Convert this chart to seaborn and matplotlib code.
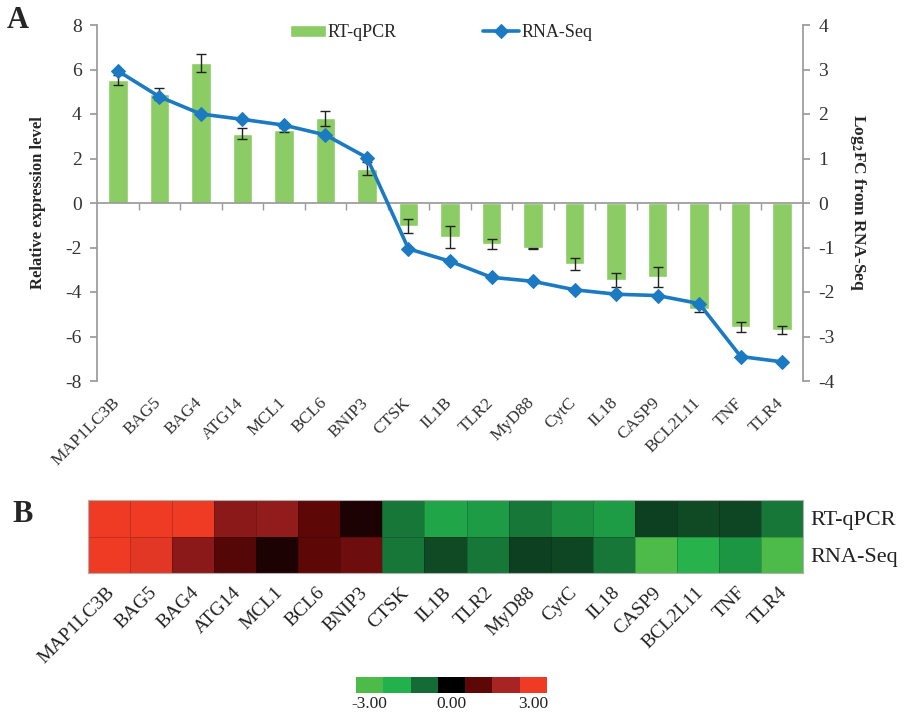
import numpy as np
import pandas as pd
import matplotlib
matplotlib.use("Agg")
import matplotlib.pyplot as plt
import matplotlib.transforms as mtransforms
from matplotlib.colors import LinearSegmentedColormap, ListedColormap, BoundaryNorm
from matplotlib.cm import ScalarMappable
import seaborn as sns

# data
genes = ['MAP1LC3B', 'BAG5', 'BAG4', 'ATG14', 'MCL1', 'BCL6', 'BNIP3', 'CTSK', 'IL1B',
         'TLR2', 'MyD88', 'CytC', 'IL18', 'CASP9', 'BCL2L11', 'TNF', 'TLR4']
qpcr = [5.53, 4.9, 6.28, 3.12, 3.27, 3.8, 1.55, -1.02, -1.53,
        -1.83, -2.03, -2.74, -3.46, -3.34, -4.77, -5.56, -5.71]
qpcr_err = [0.22, 0.25, 0.4, 0.25, 0.1, 0.34, 0.28, 0.32, 0.5,
            0.22, 0.02, 0.25, 0.32, 0.45, 0.15, 0.22, 0.19]
rnaseq = [2.97, 2.39, 2.0, 1.88, 1.75, 1.53, 1.02, -1.03, -1.31,
          -1.67, -1.76, -1.95, -2.05, -2.08, -2.26, -3.45, -3.57]

# heatmap values (panel B)
heat_qpcr = [3.0, 3.0, 3.0, 1.6, 1.7, 1.0, 0.3, -1.15, -1.85,
             -1.7, -1.15, -1.5, -1.7, -0.6, -0.7, -0.65, -1.15]
heat_rnaseq = [3.0, 2.8, 1.6, 0.9, 0.3, 1.0, 1.2, -1.15, -0.7,
               -1.15, -0.6, -0.65, -1.15, -3.0, -2.1, -1.6, -3.0]
heat_rows = ['RT-qPCR', 'RNA-Seq']

scale_colors = ['#4dbb4a', '#22b14c', '#156b35', '#000000', '#5e0707', '#a82424', '#ef3b24']
scale_ticks = [-3, 0, 3]

sns.set_theme(style='white')
plt.rcParams['font.family'] = ['Liberation Serif', 'DejaVu Serif']
plt.rcParams['mathtext.fontset'] = 'stix'
plt.rcParams['axes.unicode_minus'] = False

bar_color = '#8ccc64'
line_color = '#1c7ac2'
axis_gray = '#9a9a9a'

fig = plt.figure(figsize=(9.1, 7.15), dpi=100)

# ---- panel A ----
ax = fig.add_axes([97 / 910, 1 - 381 / 715, 706 / 910, 356 / 715])
n = len(genes)
sns.barplot(x=genes, y=qpcr, color=bar_color, saturation=1, width=0.47,
            errorbar=None, ax=ax, label='RT-qPCR')
ax.errorbar(np.arange(n), qpcr, yerr=qpcr_err, fmt='none', ecolor='#222222',
            elinewidth=1, capsize=3.5, capthick=1)
ax.set_ylim(-8, 8)
ax.set_yticks(np.arange(-8, 9, 2))
ax.set_xlim(-0.5, n - 0.5)
if ax.get_legend() is not None:
    ax.get_legend().remove()

# zero line with ticks between categories
ax.spines['bottom'].set_position(('data', 0))
ax.spines['bottom'].set_color(axis_gray)
ax.spines['left'].set_color(axis_gray)
ax.spines['top'].set_visible(False)
ax.spines['right'].set_visible(False)
ax.set_xticks(np.arange(n - 1) + 0.5)
ax.tick_params(axis='x', bottom=True, length=5, color=axis_gray, labelbottom=False, width=1)
ax.tick_params(axis='y', left=True, length=5, color=axis_gray, labelsize=14,
               labelcolor='#333333', pad=6)

sec = ax.secondary_xaxis('bottom')
sec.set_xticks(np.arange(n), labels=genes)
sec.tick_params(length=0, labelsize=12.5, labelcolor='#333333', pad=10)
shift_a = mtransforms.ScaledTranslation(5 / 100, 0, fig.dpi_scale_trans)
for lab in sec.get_xticklabels():
    lab.set_rotation(45)
    lab.set_ha('right')
    lab.set_transform(lab.get_transform() + shift_a)
sec.spines['bottom'].set_visible(False)

ax.set_ylabel('Relative expression level', fontsize=12, fontweight='bold', va='center')
ax.yaxis.set_label_coords(-0.083, 0.5)

ax2 = ax.twinx()
sns.lineplot(x=np.arange(n), y=rnaseq, ax=ax2, color=line_color, linewidth=2.6,
             marker='D', markersize=7.5, markeredgecolor=line_color, label='RNA-Seq')
ax2.set_ylim(-4, 4)
ax2.set_yticks(np.arange(-4, 5, 1))
ax2.set_xlim(-0.5, n - 0.5)
for s in ['top', 'bottom', 'left']:
    ax2.spines[s].set_visible(False)
ax2.spines['right'].set_color(axis_gray)
ax2.tick_params(axis='y', right=True, length=5, color=axis_gray, labelsize=14,
                labelcolor='#333333', pad=6)
ax2.set_ylabel(r'Log$_\mathbf{2}$FC from RNA-Seq', fontsize=12.5, fontweight='bold',
               rotation=270, va='center')
ax2.yaxis.set_label_coords(1.078, 0.5)
ax2.get_legend().remove()

h1, l1 = ax.get_legend_handles_labels()
h2, l2 = ax2.get_legend_handles_labels()
ax2.legend(h1 + h2, l1 + l2, loc='center', bbox_to_anchor=(0.487, 0.978), ncol=2,
           frameon=False, fontsize=13, handlelength=2.0, handletextpad=0.1,
           columnspacing=4.8)

fig.text(18 / 910, 1 - 21 / 715, 'A', fontsize=22, fontweight='bold', ha='center', va='center')

# ---- panel B ----
heat_df = pd.DataFrame([heat_qpcr, heat_rnaseq], index=heat_rows, columns=genes)
heat_cmap = LinearSegmentedColormap.from_list('gr', scale_colors)
hax = fig.add_axes([88 / 910, 1 - 573 / 715, 715 / 910, 73 / 715])
sns.heatmap(heat_df, cmap=heat_cmap, vmin=-3, vmax=3, cbar=False, ax=hax,
            linewidths=0.6, linecolor=(0, 0, 0, 0.18))
for s in hax.spines.values():
    s.set_visible(True)
    s.set_color('#b0b0b0')
    s.set_linewidth(0.8)
hax.yaxis.tick_right()
hax.tick_params(axis='both', length=0)
hax.tick_params(axis='y', labelsize=16, labelcolor='#222222', pad=5, rotation=0)
hax.tick_params(axis='x', labelsize=14, labelcolor='#222222', pad=8)
hax.set_xticklabels(genes, rotation=45, ha='right')
shift_b = mtransforms.ScaledTranslation(9 / 100, 0, fig.dpi_scale_trans)
for lab in hax.get_xticklabels():
    lab.set_transform(lab.get_transform() + shift_b)
hax.set_xlabel('')
hax.set_ylabel('')

fig.text(23 / 910, 1 - 514 / 715, 'B', fontsize=22, fontweight='bold', ha='center', va='center')

# colour scale
cax = fig.add_axes([356 / 910, 1 - 693 / 715, 191 / 910, 16 / 715])
bounds = np.arange(-3.5, 3.6, 1)
sm = ScalarMappable(norm=BoundaryNorm(bounds, len(scale_colors)),
                    cmap=ListedColormap(scale_colors))
cb = fig.colorbar(sm, cax=cax, orientation='horizontal', ticks=scale_ticks)
cb.ax.minorticks_off()
cb.ax.set_xticks(scale_ticks, labels=[f'{t:.2f}' for t in scale_ticks])
cb.outline.set_visible(False)
cb.ax.tick_params(which='both', length=0, labelsize=12.5, pad=2, labelcolor='#222222')

fig.savefig('out.png', dpi=100)
